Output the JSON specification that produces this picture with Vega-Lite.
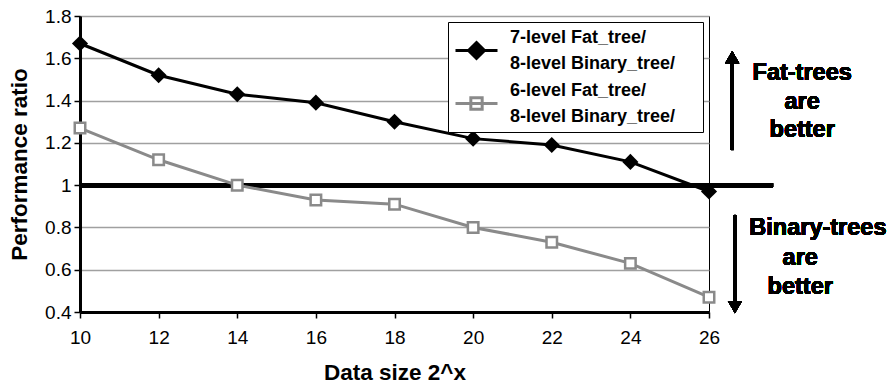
{
  "$schema": "https://vega.github.io/schema/vega-lite/v6.json",
  "width": 629,
  "height": 296,
  "autosize": {"type": "none"},
  "padding": {"left": 80, "top": 16, "right": 181, "bottom": 76},
  "background": "white",
  "config": {
    "font": "Liberation Sans",
    "view": {"stroke": "black", "strokeWidth": 1},
    "axis": {
      "labelFont": "Liberation Sans",
      "labelFontSize": 19,
      "labelColor": "black",
      "labelFlush": false,
      "titleFont": "Liberation Sans",
      "titleFontSize": 22.5,
      "titleFontWeight": "bold",
      "titleColor": "black",
      "domainColor": "black",
      "domainWidth": 3,
      "tickColor": "black",
      "tickWidth": 1.5,
      "tickSize": 6
    }
  },
  "datasets": {
    "perf": [
      {"size": 10, "series": "7-level Fat_tree/|8-level Binary_tree/", "ratio": 1.67},
      {"size": 12, "series": "7-level Fat_tree/|8-level Binary_tree/", "ratio": 1.52},
      {"size": 14, "series": "7-level Fat_tree/|8-level Binary_tree/", "ratio": 1.43},
      {"size": 16, "series": "7-level Fat_tree/|8-level Binary_tree/", "ratio": 1.39},
      {"size": 18, "series": "7-level Fat_tree/|8-level Binary_tree/", "ratio": 1.30},
      {"size": 20, "series": "7-level Fat_tree/|8-level Binary_tree/", "ratio": 1.22},
      {"size": 22, "series": "7-level Fat_tree/|8-level Binary_tree/", "ratio": 1.19},
      {"size": 24, "series": "7-level Fat_tree/|8-level Binary_tree/", "ratio": 1.11},
      {"size": 26, "series": "7-level Fat_tree/|8-level Binary_tree/", "ratio": 0.97},
      {"size": 10, "series": "6-level Fat_tree/|8-level Binary_tree/", "ratio": 1.27},
      {"size": 12, "series": "6-level Fat_tree/|8-level Binary_tree/", "ratio": 1.12},
      {"size": 14, "series": "6-level Fat_tree/|8-level Binary_tree/", "ratio": 1.00},
      {"size": 16, "series": "6-level Fat_tree/|8-level Binary_tree/", "ratio": 0.93},
      {"size": 18, "series": "6-level Fat_tree/|8-level Binary_tree/", "ratio": 0.91},
      {"size": 20, "series": "6-level Fat_tree/|8-level Binary_tree/", "ratio": 0.80},
      {"size": 22, "series": "6-level Fat_tree/|8-level Binary_tree/", "ratio": 0.73},
      {"size": 24, "series": "6-level Fat_tree/|8-level Binary_tree/", "ratio": 0.63},
      {"size": 26, "series": "6-level Fat_tree/|8-level Binary_tree/", "ratio": 0.47}
    ]
  },
  "data": {"name": "perf"},
  "encoding": {
    "x": {
      "field": "size", "type": "quantitative",
      "scale": {"domain": [10, 26], "nice": false, "zero": false},
      "axis": {"title": "Data size 2^x", "values": [10, 12, 14, 16, 18, 20, 22, 24, 26], "grid": false, "labelPadding": 10, "titlePadding": 14}
    },
    "y": {
      "field": "ratio", "type": "quantitative",
      "scale": {"domain": [0.4, 1.8], "nice": false, "zero": false},
      "axis": {"title": "Performance ratio", "values": [0.4, 0.6, 0.8, 1, 1.2, 1.4, 1.6, 1.8], "format": "~g", "grid": true, "gridColor": "#a0a0a0", "gridWidth": 1.5, "labelPadding": 3, "titlePadding": 13}
    }
  },
  "layer": [
    {
      "mark": {"type": "rule", "color": "black", "strokeWidth": 4, "clip": false},
      "encoding": {"x": {"datum": 10}, "x2": {"datum": 27.63}, "y": {"datum": 1}}
    },
    {
      "transform": [{"filter": "indexof(datum.series, '7-level') == 0"}],
      "mark": {"type": "line", "color": "black", "strokeWidth": 3}
    },
    {
      "transform": [{"filter": "indexof(datum.series, '6-level') == 0"}],
      "mark": {"type": "line", "color": "#8a8a8a", "strokeWidth": 3}
    },
    {
      "transform": [{"filter": "indexof(datum.series, '7-level') == 0"}],
      "mark": {"type": "point", "shape": "diamond", "filled": true, "color": "black", "size": 260, "opacity": 1, "clip": false}
    },
    {
      "transform": [{"filter": "indexof(datum.series, '6-level') == 0"}],
      "mark": {"type": "point", "shape": "square", "filled": false, "fill": "white", "fillOpacity": 1, "stroke": "#8a8a8a", "strokeWidth": 2.5, "size": 110, "opacity": 1, "clip": false}
    },
    {
      "transform": [{"filter": "datum.size > 100"}],
      "mark": {"type": "point", "filled": false, "strokeWidth": 3},
      "encoding": {
        "color": {
          "field": "series", "type": "nominal",
          "scale": {"domain": ["7-level Fat_tree/|8-level Binary_tree/", "6-level Fat_tree/|8-level Binary_tree/"], "range": ["black", "#8a8a8a"]},
          "legend": {"title": null, "orient": "none", "legendX": 368, "legendY": 6, "strokeColor": "black", "fillColor": "white", "padding": 6, "labelFont": "Liberation Sans", "labelFontSize": 18, "labelFontWeight": "bold", "labelColor": "black", "labelExpr": "split(datum.label, '|')", "labelLimit": 400, "labelOffset": 11, "symbolSize": 1764, "symbolStrokeWidth": 3, "symbolOpacity": 1, "rowPadding": 8, "encode": {"labels": {"update": {"lineHeight": {"value": 26}, "dy": {"value": -13}}}}}
        },
        "fill": {
          "field": "series", "type": "nominal",
          "scale": {"domain": ["7-level Fat_tree/|8-level Binary_tree/", "6-level Fat_tree/|8-level Binary_tree/"], "range": ["black", "white"]},
          "legend": {"title": null, "orient": "none", "legendX": 368, "legendY": 6, "strokeColor": "black", "fillColor": "white", "padding": 6, "labelFont": "Liberation Sans", "labelFontSize": 18, "labelFontWeight": "bold", "labelColor": "black", "labelExpr": "split(datum.label, '|')", "labelLimit": 400, "labelOffset": 11, "symbolSize": 1764, "symbolStrokeWidth": 3, "symbolOpacity": 1, "rowPadding": 8, "encode": {"labels": {"update": {"lineHeight": {"value": 26}, "dy": {"value": -13}}}}}
        },
        "shape": {
          "field": "series", "type": "nominal",
          "scale": {"domain": ["7-level Fat_tree/|8-level Binary_tree/", "6-level Fat_tree/|8-level Binary_tree/"], "range": ["M-1,0L1,0M0,-0.38L0.38,0L0,0.38L-0.38,0ZM10.2,0", "M-1,0L1,0M-0.27,-0.27L0.27,-0.27L0.27,0.27L-0.27,0.27ZM10.2,0"]},
          "legend": {"title": null, "orient": "none", "legendX": 368, "legendY": 6, "strokeColor": "black", "fillColor": "white", "padding": 6, "labelFont": "Liberation Sans", "labelFontSize": 18, "labelFontWeight": "bold", "labelColor": "black", "labelExpr": "split(datum.label, '|')", "labelLimit": 400, "labelOffset": 11, "symbolSize": 1764, "symbolStrokeWidth": 3, "symbolOpacity": 1, "rowPadding": 8, "encode": {"labels": {"update": {"lineHeight": {"value": 26}, "dy": {"value": -13}}}}}
        }
      }
    },
    {
      "mark": {"type": "rule", "color": "black", "strokeWidth": 3, "clip": false},
      "encoding": {"x": {"datum": 26.59}, "y": {"datum": 1.166}, "y2": {"datum": 1.59}}
    },
    {
      "mark": {"type": "point", "shape": "triangle-up", "filled": true, "color": "black", "opacity": 1, "size": 200, "clip": false},
      "encoding": {"x": {"datum": 26.59}, "y": {"datum": 1.606}}
    },
    {
      "mark": {"type": "rule", "color": "black", "strokeWidth": 3, "clip": false},
      "encoding": {"x": {"datum": 26.66}, "y": {"datum": 0.859}, "y2": {"datum": 0.44}}
    },
    {
      "mark": {"type": "point", "shape": "triangle-down", "filled": true, "color": "black", "opacity": 1, "size": 200, "clip": false},
      "encoding": {"x": {"datum": 26.66}, "y": {"datum": 0.423}}
    },
    {
      "mark": {"type": "text", "text": ["Fat-trees", "are", "better"], "font": "Liberation Sans", "fontSize": 23.5, "fontWeight": "bold", "color": "black", "align": "center", "baseline": "middle", "lineHeight": 28.5, "clip": false},
      "encoding": {"x": {"datum": 28.37}, "y": {"datum": 1.53}}
    },
    {
      "mark": {"type": "text", "text": "Binary-trees", "font": "Liberation Sans", "fontSize": 23.5, "fontWeight": "bold", "color": "black", "align": "center", "baseline": "middle", "clip": false},
      "encoding": {"x": {"datum": 28.77}, "y": {"datum": 0.797}}
    },
    {
      "mark": {"type": "text", "text": ["are", "better"], "font": "Liberation Sans", "fontSize": 23.5, "fontWeight": "bold", "color": "black", "align": "center", "baseline": "middle", "lineHeight": 29, "clip": false},
      "encoding": {"x": {"datum": 28.32}, "y": {"datum": 0.655}}
    }
  ]
}
